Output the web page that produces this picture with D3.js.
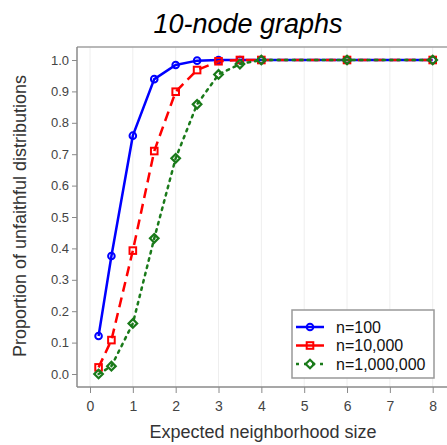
<!DOCTYPE html>
<html>
<head>
<meta charset="utf-8">
<script src="https://cdn.jsdelivr.net/npm/d3@7"></script>
<style>
  body { margin: 0; background: #fff; }
  text { font-family: "Liberation Sans", Arial, sans-serif; }
</style>
</head>
<body>
<div id="chart"></div>
<script>
// data
var xs = [0.2, 0.5, 1, 1.5, 2, 2.5, 3, 3.5, 4, 6, 8];
var n100 = [0.121, 0.376, 0.759, 0.939, 0.984, 0.998, 1.0, 1.0, 1.0, 1.0, 1.0];
var n10k = [0.021, 0.108, 0.393, 0.710, 0.899, 0.968, 0.996, 1.0, 1.0, 1.0, 1.0];
var n1m = [0.0, 0.025, 0.161, 0.432, 0.687, 0.859, 0.954, 0.987, 1.0, 1.0, 1.0];
var seriesNames = ["n=100", "n=10,000", "n=1,000,000"];
var xTicks = [0, 1, 2, 3, 4, 5, 6, 7, 8];
var yTicks = [0, 0.1, 0.2, 0.3, 0.4, 0.5, 0.6, 0.7, 0.8, 0.9, 1.0];

var series = [
  {name: seriesNames[0], values: n100, color: "#0000ff", dash: null, shape: "circle"},
  {name: seriesNames[1], values: n10k, color: "#ff0000", dash: "10,6", shape: "square"},
  {name: seriesNames[2], values: n1m, color: "#1a7a1a", dash: "2.5,5", shape: "diamond"}
];

var width = 447, height = 445;
var svg = d3.select("#chart").append("svg")
    .attr("width", width)
    .attr("height", height);

var frame = {left: 77, top: 47, right: 447, bottom: 387};

var x = d3.scaleLinear().domain([0, 8]).range([90, 432.7]);
var y = d3.scaleLinear().domain([0, 1]).range([374, 60]);

// title
svg.append("text")
    .attr("x", 248)
    .attr("y", 33)
    .attr("text-anchor", "middle")
    .style("font-size", "27px")
    .style("font-style", "italic")
    .text("10-node graphs");

// vertical grid
svg.append("g").selectAll("line")
    .data(xTicks)
  .enter().append("line")
    .attr("x1", function(d) { return x(d); })
    .attr("x2", function(d) { return x(d); })
    .attr("y1", frame.top)
    .attr("y2", frame.bottom)
    .attr("stroke", "#eeeeee")
    .attr("stroke-width", 1);

// top frame line
svg.append("line")
    .attr("x1", frame.left).attr("x2", frame.right)
    .attr("y1", frame.top).attr("y2", frame.top)
    .attr("stroke", "#a0a0a0").attr("stroke-width", 1.5);

// x-axis
var xAxis = svg.append("g")
    .attr("transform", "translate(0," + frame.bottom + ")")
    .call(d3.axisBottom(x).tickValues(xTicks).tickSize(6).tickSizeOuter(0).tickFormat(d3.format("d")));
xAxis.select(".domain").attr("d", "M" + frame.left + ",0H" + frame.right);

// y-axis
var yAxis = svg.append("g")
    .attr("transform", "translate(" + frame.left + ",0)")
    .call(d3.axisLeft(y).tickValues(yTicks).tickSize(5).tickSizeOuter(0).tickFormat(d3.format(".1f")));
yAxis.select(".domain").attr("d", "M0," + frame.top + "V" + frame.bottom);

svg.selectAll(".domain").attr("stroke", "#8a8a8a").attr("stroke-width", 1.5);
svg.selectAll(".tick line").attr("stroke", "#8a8a8a");
svg.selectAll(".tick text")
    .attr("fill", "#444")
    .style("font-family", "Liberation Sans, Arial, sans-serif");
xAxis.selectAll(".tick text").attr("dy", "1.05em").style("font-size", "14px");
yAxis.selectAll(".tick text").attr("x", -8).style("font-size", "13px");

// axis titles
svg.append("text")
    .attr("x", 263)
    .attr("y", 438)
    .attr("text-anchor", "middle")
    .attr("fill", "#333")
    .style("font-size", "18px")
    .text("Expected neighborhood size");

svg.append("text")
    .attr("transform", "translate(26," + 216 + ") rotate(-90)")
    .attr("text-anchor", "middle")
    .attr("fill", "#333")
    .style("font-size", "18px")
    .text("Proportion of unfaithful distributions");

// markers
function drawMarker(g, shape, cx, cy, color) {
  if (shape === "circle") {
    g.append("circle").attr("cx", cx).attr("cy", cy).attr("r", 3.3)
      .attr("fill", "none").attr("stroke", color).attr("stroke-width", 2);
  } else if (shape === "square") {
    g.append("rect").attr("x", cx - 3.3).attr("y", cy - 3.3).attr("width", 6.6).attr("height", 6.6)
      .attr("fill", "none").attr("stroke", color).attr("stroke-width", 2);
  } else {
    var s = 4.3;
    g.append("path")
      .attr("d", "M" + cx + "," + (cy - s) + "L" + (cx + s) + "," + cy + "L" + cx + "," + (cy + s) + "L" + (cx - s) + "," + cy + "Z")
      .attr("fill", "none").attr("stroke", color).attr("stroke-width", 2.2);
  }
}

var line = d3.line()
    .x(function(d) { return x(d[0]); })
    .y(function(d) { return y(d[1]); });

series.forEach(function(s) {
  var pts = xs.map(function(v, i) { return [v, s.values[i]]; });
  var g = svg.append("g");
  g.append("path")
      .datum(pts)
      .attr("d", line)
      .attr("fill", "none")
      .attr("stroke", s.color)
      .attr("stroke-width", 2.5)
      .attr("stroke-linecap", s.dash === "2.5,5" ? "round" : "butt")
      .attr("stroke-dasharray", s.dash);
  pts.forEach(function(p) { drawMarker(g, s.shape, x(p[0]), y(p[1]), s.color); });
});

// legend
var legend = svg.append("g");
legend.append("rect")
    .attr("x", 292).attr("y", 310)
    .attr("width", 142).attr("height", 68)
    .attr("fill", "#fff")
    .attr("stroke", "#999")
    .attr("stroke-width", 1.5);

series.forEach(function(s, i) {
  var ly = 327 + i * 18.5;
  legend.append("line")
      .attr("x1", 296).attr("x2", 324)
      .attr("y1", ly).attr("y2", ly)
      .attr("stroke", s.color)
      .attr("stroke-width", 2.5)
      .attr("stroke-dasharray", s.dash === "2.5,5" ? "3,5" : null);
  drawMarker(legend, s.shape, 310, ly, s.color);
  legend.append("text")
      .attr("x", 336)
      .attr("y", ly + 5.5)
      .style("font-size", "16px")
      .attr("fill", "#111")
      .text(s.name);
});
</script>
</body>
</html>
